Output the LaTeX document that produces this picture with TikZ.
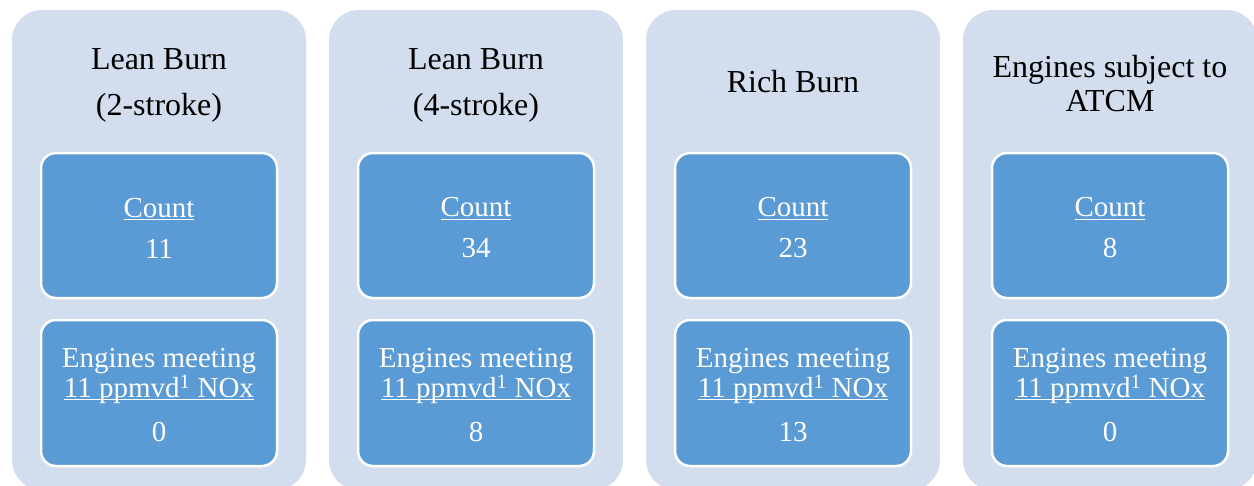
\documentclass[tikz,border=0pt]{standalone}
\usepackage{fontspec}
\setmainfont{Liberation Serif}
\usepackage{tikz}
\definecolor{panelbg}{HTML}{D2DDEE}
\definecolor{cellblue}{HTML}{5B9BD5}
\newsavebox{\ulbox}
\newcommand{\cellul}[1]{\sbox{\ulbox}{#1}\rlap{\rule[-3pt]{\wd\ulbox}{1.3pt}}\usebox{\ulbox}}

\begin{document}
\begin{tikzpicture}[
  x=1pt, y=-1pt,
  panel/.style={fill=panelbg, rounded corners=30pt, minimum width=294pt,
                minimum height=480pt, inner sep=0pt},
  title/.style={align=center, text=black, font=\fontsize{32}{34}\selectfont},
  cell/.style={fill=cellblue, draw=white, line width=2.5pt, rounded corners=15pt,
               minimum width=236pt, inner sep=0pt, align=center, text=white,
               font=\fontsize{29}{30}\selectfont},
  countcell/.style={cell, minimum height=145pt},
  metcell/.style={cell, minimum height=146pt},
]
\useasboundingbox (0,0) rectangle (1254,485);

% --- column x-coordinates ---
\def\xA{159}
\def\xB{476}
\def\xC{793}
\def\xD{1110}

% =========================================================
% Column 1 -- Lean Burn (2-stroke)
% =========================================================
\node[panel] (p1) at (\xA,250) {};
\node[title] (t1) at (\xA,85) {Lean Burn\\[12pt](2-stroke)};
\node[countcell] (c1) at (\xA,225.5) {\rule{0pt}{24pt}\cellul{Count}\\[11pt]11};
\node[metcell] (m1) at (\xA,393) {\rule{0pt}{23pt}Engines meeting\\\cellul{11 ppmvd\textsuperscript{1} NOx}\\[14pt]0};

% =========================================================
% Column 2 -- Lean Burn (4-stroke)
% =========================================================
\node[panel] (p2) at (\xB,250) {};
\node[title] (t2) at (\xB,85) {Lean Burn\\[12pt](4-stroke)};
\node[countcell] (c2) at (\xB,225.5) {\rule{0pt}{24pt}\cellul{Count}\\[11pt]34};
\node[metcell] (m2) at (\xB,393) {\rule{0pt}{23pt}Engines meeting\\\cellul{11 ppmvd\textsuperscript{1} NOx}\\[14pt]8};

% =========================================================
% Column 3 -- Rich Burn
% =========================================================
\node[panel] (p3) at (\xC,250) {};
\node[title] (t3) at (\xC,82) {Rich Burn};
\node[countcell] (c3) at (\xC,225.5) {\rule{0pt}{24pt}\cellul{Count}\\[11pt]23};
\node[metcell] (m3) at (\xC,393) {\rule{0pt}{23pt}Engines meeting\\\cellul{11 ppmvd\textsuperscript{1} NOx}\\[14pt]13};

% =========================================================
% Column 4 -- Engines subject to ATCM
% =========================================================
\node[panel] (p4) at (\xD,250) {};
\node[title] (t4) at (\xD,84) {Engines subject to\\ATCM};
\node[countcell] (c4) at (\xD,225.5) {\rule{0pt}{24pt}\cellul{Count}\\[11pt]8};
\node[metcell] (m4) at (\xD,393) {\rule{0pt}{23pt}Engines meeting\\\cellul{11 ppmvd\textsuperscript{1} NOx}\\[14pt]0};

\end{tikzpicture}
\end{document}
